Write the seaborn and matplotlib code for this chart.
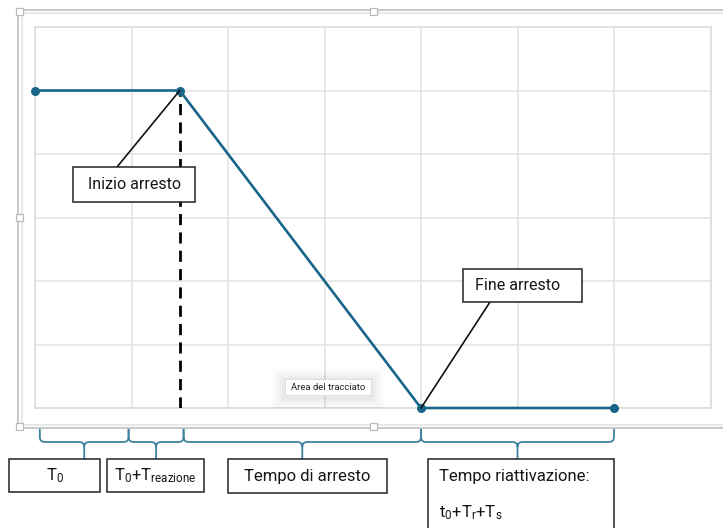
import numpy as np
import pandas as pd
import seaborn as sns
import matplotlib.pyplot as plt
from matplotlib.path import Path
from matplotlib.patches import PathPatch, Rectangle

# --- data -----------------------------------------------------------------
time = [0.0, 1.5, 4.0, 6.0]          # time axis (grid units)
speed = [5.0, 5.0, 0.0, 0.0]          # speed profile
reaction_end = 1.5                    # end of reaction time (dashed marker)
phase_edges = [0.05, 0.97, 1.54, 4.0, 6.0]
phase_labels = [r"T$_\mathregular{0}$",
                r"T$_\mathregular{0}$+T$_\mathregular{reazione}$",
                "Tempo di arresto",
                "Tempo riattivazione:"]
x_max, y_max = 7, 6

# --- style ----------------------------------------------------------------
sns.set_theme(style="whitegrid")
plt.rcParams["font.family"] = ["Roboto", "DejaVu Sans"]
plt.rcParams["mathtext.fontset"] = "custom"
plt.rcParams["mathtext.rm"] = "Roboto"
plt.rcParams["mathtext.it"] = "Roboto:italic"
plt.rcParams["mathtext.bf"] = "Roboto:bold"

LINE = "#17668a"
BRACE = "#3d82a1"
GRID = "#e4e4e4"
TXT = "#161616"
W, H = 723, 528

fig = plt.figure(figsize=(W / 100, H / 100), dpi=100)
fig.patch.set_facecolor("white")

ax = fig.add_axes([35 / W, (H - 408) / H, (710.5 - 35) / W, (408 - 27) / H])
df = pd.DataFrame({"t": time, "v": speed})
sns.lineplot(data=df, x="t", y="v", ax=ax, color=LINE, linewidth=1.9,
             marker="o", markersize=6.5, markeredgewidth=0, zorder=4)
for ln in ax.lines:
    ln.set_clip_on(False)
    ln.set_markersize(6.5)
ax.vlines(reaction_end, 0, speed[1], colors="black", linewidth=2.0,
          linestyles=(0, (4, 2.6)), zorder=3)

ax.set_xlim(0, x_max)
ax.set_ylim(0, y_max)
ax.set_xticks(np.arange(0, x_max + 1))
ax.set_yticks(np.arange(0, y_max + 1))
ax.set_xticklabels([])
ax.set_yticklabels([])
ax.tick_params(length=0)
ax.set_xlabel("")
ax.set_ylabel("")
ax.grid(True, color=GRID, linewidth=1.2)
for s in ax.spines.values():
    s.set_visible(True)
    s.set_color("#dcdcdc")
    s.set_linewidth(1.2)
ax.set_facecolor("white")

# overlay in pixel coordinates for frame, callouts and braces
ov = fig.add_axes([0, 0, 1, 1], zorder=10)
ov.set_xlim(0, W)
ov.set_ylim(H, 0)
ov.axis("off")
ov.patch.set_alpha(0)


def to_px(x, y):
    p = ax.transData.transform((x, y))
    return ov.transData.inverted().transform(p)


# selection frame around the chart object
for xs, ys, c in [([18, 18], [10, 428], "#c4c4c4"), ([21.5, 21.5], [13, 424.5], "#e6e6e6"),
                  ([18, W], [10, 10], "#c4c4c4"), ([21.5, W], [13, 13], "#e6e6e6"),
                  ([18, W], [428, 428], "#c4c4c4"), ([21.5, W], [424.5, 424.5], "#e6e6e6")]:
    ov.plot(xs, ys, color=c, linewidth=1.3, solid_capstyle="butt")
for hx, hy in [(19, 11), (19, 217), (19, 426), (373, 11), (373, 426)]:
    ov.add_patch(Rectangle((hx - 3.5, hy - 3.5), 7, 7, facecolor="white",
                           edgecolor="#bbbbbb", linewidth=0.9, zorder=3))


def brace(x0, x1, ytop=428, ymid=442, ytip=459, r=5):
    xc = (x0 + x1) / 2
    verts = [(x0, ytop), (x0, ymid - r), (x0, ymid), (x0 + r, ymid),
             (xc - r, ymid), (xc, ymid), (xc, ymid + r), (xc, ytip),
             (xc, ymid + r), (xc, ymid), (xc + r, ymid),
             (x1 - r, ymid), (x1, ymid), (x1, ymid - r), (x1, ytop)]
    codes = [Path.MOVETO, Path.LINETO, Path.CURVE3, Path.CURVE3,
             Path.LINETO, Path.CURVE3, Path.CURVE3, Path.LINETO,
             Path.MOVETO, Path.CURVE3, Path.CURVE3,
             Path.LINETO, Path.CURVE3, Path.CURVE3, Path.LINETO]
    ov.add_patch(PathPatch(Path(verts, codes), facecolor="none",
                           edgecolor=BRACE, linewidth=1.3))


for a, b in zip(phase_edges[:-1], phase_edges[1:]):
    brace(to_px(a, 0)[0], to_px(b, 0)[0])


def box(x0, y0, x1, y1):
    ov.add_patch(Rectangle((x0, y0), x1 - x0, y1 - y0, facecolor="white",
                           edgecolor="#222222", linewidth=1.1, zorder=5))


# phase labels
box(9, 459, 100, 492)
ov.text(54.5, 476, phase_labels[0], ha="center", va="center", fontsize=12,
        color=TXT, zorder=6)
box(107, 459, 204, 492)
ov.text(155.5, 476, phase_labels[1], ha="center", va="center", fontsize=12,
        color=TXT, zorder=6)
box(228, 459, 387, 493)
ov.text(307, 476, phase_labels[2], ha="center", va="center", fontsize=12,
        color=TXT, zorder=6)
box(428, 459, 614, 540)
ov.text(439, 476, phase_labels[3], ha="left", va="center", fontsize=12,
        color=TXT, zorder=6)
ov.text(439, 513, r"t$_\mathregular{0}$+T$_\mathregular{r}$+T$_\mathregular{s}$",
        ha="left", va="center", fontsize=12, color=TXT, zorder=6)

# callouts on the curve
p_start = to_px(time[1], speed[1])
ov.plot([p_start[0], 117], [p_start[1], 167], color="#111111", linewidth=1.2, zorder=4)
box(73, 167, 195, 202)
ov.text(134, 184.5, "Inizio arresto", ha="center", va="center", fontsize=11.5,
        color=TXT, zorder=6)

p_stop = to_px(time[2], speed[2])
ov.plot([p_stop[0], 490], [p_stop[1], 302], color="#111111", linewidth=1.2, zorder=4)
box(463, 269, 582, 302)
ov.text(518, 285.5, "Fine arresto", ha="center", va="center", fontsize=11.5,
        color=TXT, zorder=6)

# hover tooltip with soft shadow
for g, a in [(14, 0.012), (11, 0.014), (8, 0.016), (5, 0.02), (3, 0.025)]:
    ov.add_patch(Rectangle((285 - g, 381 - g), 86 + 2 * g, 16 + 2 * g,
                           facecolor="black", edgecolor="none", alpha=a,
                           zorder=6, joinstyle="round"))
ov.add_patch(Rectangle((285, 379), 86, 16, facecolor="white",
                       edgecolor="#dadada", linewidth=0.6, zorder=7))
ov.text(328, 387.5, "Area del tracciato", ha="center", va="center", fontsize=6.8,
        color="#222222", zorder=8)

fig.savefig("out.png", dpi=100)
